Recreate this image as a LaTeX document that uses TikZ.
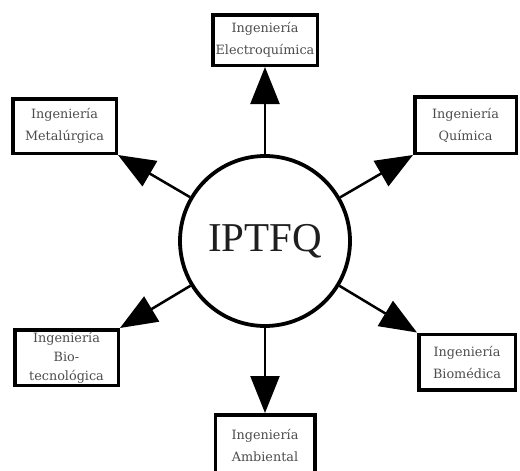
\documentclass[tikz,border=0pt]{standalone}
\usepackage{fontspec}
\setmainfont{DejaVu Serif}
\newfontfamily\bigfont{Liberation Serif}
\usetikzlibrary{arrows.meta}
\begin{document}
\begin{tikzpicture}[x=1pt,y=-1pt,
  box/.style={draw=black, line width=3.5pt, rectangle, align=center,
    font=\fontsize{12.8}{22}\selectfont, text=black!70, inner sep=0pt},
  link/.style={line width=2.5pt, -{Triangle[length=37pt,width=29pt]}}]
\useasboundingbox (0,0) rectangle (520,471);
\clip (0,0) rectangle (520,471);
\node[draw=black, line width=3.8pt, circle, minimum size=170pt, inner sep=0pt,
  font=\bigfont\fontsize{41}{41}\selectfont, text=black!88] (c) at (265,241) {IPTFQ};
\node[box, minimum width=104.5pt, minimum height=50.5pt] (t) at (265,40) {Ingeniería\\Electroquímica};
\node[box, minimum width=103.5pt, minimum height=54.5pt] (m) at (64.5,126) {Ingeniería\\Metalúrgica};
\node[box, minimum width=101.5pt, minimum height=56.5pt] (q) at (465.5,125) {Ingeniería\\Química};
\node[box, minimum width=103.5pt, minimum height=55.5pt, font=\fontsize{12.8}{19}\selectfont] (b) at (66.5,357.5) {Ingeniería\\Bio-\\tecnológica};
\node[box, minimum width=96.5pt, minimum height=55.5pt] (d) at (467,362) {Ingeniería\\Biomédica};
\node[box, minimum width=99.5pt, minimum height=60.5pt] (a) at (265,445) {Ingeniería\\Ambiental};
\draw[link] (c) -- (t.south);
\draw[link] (c) -- (m.south east);
\draw[link] (c) -- (q.south west);
\draw[link] (c) -- (b.north east);
\draw[link] (c) -- (d.north west);
\draw[link] (c) -- (a.north);
\end{tikzpicture}
\end{document}
